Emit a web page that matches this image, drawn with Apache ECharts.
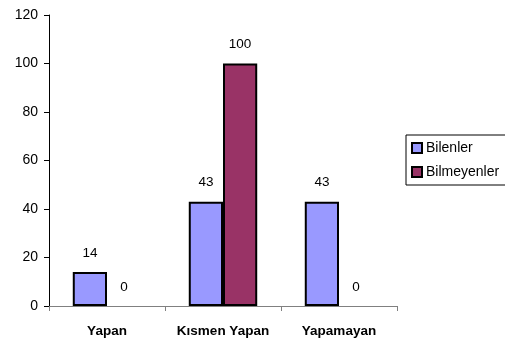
<!DOCTYPE html>
<html>
<head>
<meta charset="utf-8">
<script src="https://cdn.jsdelivr.net/npm/echarts@6/dist/echarts.min.js"></script>
<style>
  html, body { margin: 0; padding: 0; background: #fff; }
  #chart { width: 505px; height: 339px; }
</style>
</head>
<body>
<div id="chart"></div>
<script>
const categories = ['Yapan', 'Kısmen Yapan', 'Yapamayan'];
const bilenler = [14, 43, 43];
const bilmeyenler = [0, 100, 0];
const seriesNames = ['Bilenler', 'Bilmeyenler'];
const yTicks = [0, 20, 40, 60, 80, 100, 120];

const font = '"Liberation Sans", Arial, sans-serif';

// zero-height bars keep their label but show no outline
function barData(values) {
  return values.map(v => v === 0 ? { value: v, itemStyle: { borderWidth: 0 } } : v);
}

const chart = echarts.init(document.getElementById('chart'));

const barLabel = {
  show: true,
  position: 'top',
  distance: 12,
  color: '#000',
  fontFamily: font,
  fontSize: 13.5
};

chart.setOption({
  animation: false,
  grid: { left: 49, top: 15, right: 108, bottom: 33 },
  legend: {
    orient: 'vertical',
    left: 406,
    top: 135,
    width: 98,
    itemWidth: 10,
    itemHeight: 10,
    itemGap: 10,
    padding: [6, 30, 6, 5],
    borderColor: '#000',
    borderWidth: 1,
    icon: 'rect',
    textStyle: { fontFamily: font, fontSize: 14, color: '#000', padding: [0, 0, 0, -1] },
    data: seriesNames
  },
  xAxis: {
    type: 'category',
    data: categories,
    axisLine: { lineStyle: { color: '#808080', width: 1 } },
    axisTick: { show: true, inside: false, length: 5, lineStyle: { color: '#808080' } },
    axisLabel: {
      interval: 0,
      hideOverlap: false,
      fontFamily: font,
      fontSize: 13.5,
      fontWeight: 'bold',
      color: '#000',
      margin: 18
    }
  },
  yAxis: {
    type: 'value',
    min: yTicks[0],
    max: yTicks[yTicks.length - 1],
    interval: yTicks[1] - yTicks[0],
    splitLine: { show: false },
    axisLine: { show: true, lineStyle: { color: '#000', width: 1 } },
    axisTick: { show: true, length: 5, lineStyle: { color: '#000' } },
    axisLabel: { fontFamily: font, fontSize: 14, color: '#000', margin: 11 }
  },
  series: [
    {
      name: seriesNames[0],
      type: 'bar',
      data: barData(bilenler),
      barGap: '0%',
      barCategoryGap: '41%',
      itemStyle: { color: '#9999FF', borderColor: '#000', borderWidth: 2 },
      label: barLabel
    },
    {
      name: seriesNames[1],
      type: 'bar',
      data: barData(bilmeyenler),
      itemStyle: { color: '#993366', borderColor: '#000', borderWidth: 2 },
      label: barLabel
    }
  ]
});
</script>
</body>
</html>
